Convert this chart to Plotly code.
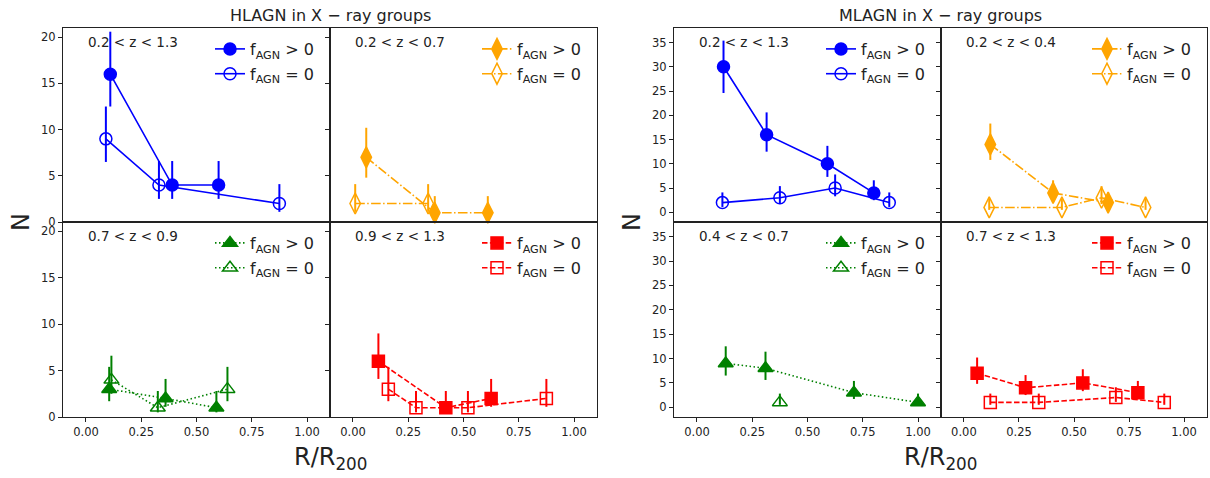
import plotly.graph_objects as go

W, H = 1210, 478

# ---------------- data ----------------
titles = ["HLAGN in X \u2212 ray groups", "MLAGN in X \u2212 ray groups"]
xticks = [0.0, 0.25, 0.5, 0.75, 1.0]
yticks_hl = [0, 5, 10, 15, 20]
yticks_ml = [0, 5, 10, 15, 20, 25, 30, 35]

z_labels_hl = ["0.2 &lt; z &lt; 1.3", "0.2 &lt; z &lt; 0.7", "0.7 &lt; z &lt; 0.9", "0.9 &lt; z &lt; 1.3"]
z_labels_ml = ["0.2 &lt; z &lt; 1.3", "0.2 &lt; z &lt; 0.4", "0.4 &lt; z &lt; 0.7", "0.7 &lt; z &lt; 1.3"]

# HLAGN
hl_all_on_x = [0.11, 0.39, 0.60];      hl_all_on_y = [16, 4, 4]
hl_all_on_up = [4.6, 2.6, 2.6];        hl_all_on_dn = [3.5, 1.5, 1.5]
hl_all_off_x = [0.09, 0.33, 0.875];    hl_all_off_y = [9, 4, 2]
hl_all_off_up = [3.5, 2.6, 2.1];       hl_all_off_dn = [2.5, 1.5, 0.9]

hl_low_on_x = [0.06, 0.37, 0.61];      hl_low_on_y = [7, 1, 1]
hl_low_on_up = [3.2, 1.8, 1.8];        hl_low_on_dn = [2.2, 0.5, 0.5]
hl_low_off_x = [0.01, 0.34];           hl_low_off_y = [2, 2]
hl_low_off_up = [2.1, 2.1];            hl_low_off_dn = [0.9, 0.9]

hl_mid_on_x = [0.105, 0.36, 0.59];     hl_mid_on_y = [3, 2, 1]
hl_mid_on_up = [2.4, 2.1, 1.8];        hl_mid_on_dn = [1.3, 0.9, 0.5]
hl_mid_off_x = [0.115, 0.325, 0.64];   hl_mid_off_y = [4, 1, 3]
hl_mid_off_up = [2.6, 1.8, 2.4];       hl_mid_off_dn = [1.5, 0.5, 1.3]

hl_hi_on_x = [0.115, 0.42, 0.625];     hl_hi_on_y = [6, 1, 2]
hl_hi_on_up = [3.0, 1.8, 2.1];         hl_hi_on_dn = [1.9, 0.5, 0.9]
hl_hi_off_x = [0.16, 0.285, 0.52, 0.875]; hl_hi_off_y = [3, 1, 1, 2]
hl_hi_off_up = [2.4, 1.8, 1.8, 2.1];   hl_hi_off_dn = [1.3, 0.5, 0.5, 0.9]

# MLAGN
ml_all_on_x = [0.12, 0.315, 0.59, 0.80];   ml_all_on_y = [30, 16, 10, 4]
ml_all_on_up = [5.4, 4.6, 3.7, 2.6];       ml_all_on_dn = [5.4, 3.5, 2.7, 1.5]
ml_all_off_x = [0.115, 0.375, 0.625, 0.87]; ml_all_off_y = [2, 3, 5, 2]
ml_all_off_up = [2.1, 2.4, 2.8, 2.1];      ml_all_off_dn = [0.9, 1.3, 1.7, 0.9]

ml_low_on_x = [0.12, 0.405, 0.655];        ml_low_on_y = [14, 4, 2]
ml_low_on_up = [4.3, 2.6, 2.1];            ml_low_on_dn = [3.2, 1.5, 0.9]
ml_low_off_x = [0.115, 0.445, 0.625, 0.825]; ml_low_off_y = [1, 1, 3, 1]
ml_low_off_up = [1.8, 1.8, 2.4, 1.8];      ml_low_off_dn = [0.5, 0.5, 1.3, 0.5]

ml_mid_on_x = [0.13, 0.31, 0.71, 1.0];     ml_mid_on_y = [9, 8, 3, 1]
ml_mid_on_up = [3.5, 3.4, 2.4, 1.8];       ml_mid_on_dn = [2.5, 2.4, 1.3, 0.5]
ml_mid_off_x = [0.375];                    ml_mid_off_y = [1]
ml_mid_off_up = [1.8];                     ml_mid_off_dn = [0.5]

ml_hi_on_x = [0.06, 0.28, 0.54, 0.79];     ml_hi_on_y = [7, 4, 5, 3]
ml_hi_on_up = [3.2, 2.6, 2.8, 2.4];        ml_hi_on_dn = [2.2, 1.5, 1.7, 1.3]
ml_hi_off_x = [0.12, 0.34, 0.69, 0.91];    ml_hi_off_y = [1, 1, 2, 1]
ml_hi_off_up = [1.8, 1.8, 2.1, 1.8];       ml_hi_off_dn = [0.5, 0.5, 0.9, 0.5]

# ---------------- styles ----------------
styles = [
    dict(color="#0000ff", dash="solid", on="circle", off="circle-open", size=12),
    dict(color="#ffa500", dash="9.6px,2.4px,1.5px,2.4px", on="diamond-tall", off="diamond-tall-open", size=15),
    dict(color="#008000", dash="1.5px,2.5px", on="triangle-up", off="triangle-up-open", size=13),
    dict(color="#ff0000", dash="5.5px,2.4px", on="square", off="square-open", size=12),
]

# panel boxes in pixels: (left, right, top, bottom)
col_px = [(63, 330), (330, 597), (674, 941), (941, 1207)]
row_px = [(28, 222), (222, 417)]

def fx(px):
    return px / W

def fy(py):
    return (H - py) / H

fig = go.Figure()

panels = [
    (0, 0, 0, 0, (hl_all_on_x, hl_all_on_y, hl_all_on_up, hl_all_on_dn), (hl_all_off_x, hl_all_off_y, hl_all_off_up, hl_all_off_dn), z_labels_hl[0]),
    (0, 1, 0, 1, (hl_low_on_x, hl_low_on_y, hl_low_on_up, hl_low_on_dn), (hl_low_off_x, hl_low_off_y, hl_low_off_up, hl_low_off_dn), z_labels_hl[1]),
    (0, 0, 1, 2, (hl_mid_on_x, hl_mid_on_y, hl_mid_on_up, hl_mid_on_dn), (hl_mid_off_x, hl_mid_off_y, hl_mid_off_up, hl_mid_off_dn), z_labels_hl[2]),
    (0, 1, 1, 3, (hl_hi_on_x, hl_hi_on_y, hl_hi_on_up, hl_hi_on_dn), (hl_hi_off_x, hl_hi_off_y, hl_hi_off_up, hl_hi_off_dn), z_labels_hl[3]),
    (1, 2, 0, 0, (ml_all_on_x, ml_all_on_y, ml_all_on_up, ml_all_on_dn), (ml_all_off_x, ml_all_off_y, ml_all_off_up, ml_all_off_dn), z_labels_ml[0]),
    (1, 3, 0, 1, (ml_low_on_x, ml_low_on_y, ml_low_on_up, ml_low_on_dn), (ml_low_off_x, ml_low_off_y, ml_low_off_up, ml_low_off_dn), z_labels_ml[1]),
    (1, 2, 1, 2, (ml_mid_on_x, ml_mid_on_y, ml_mid_on_up, ml_mid_on_dn), (ml_mid_off_x, ml_mid_off_y, ml_mid_off_up, ml_mid_off_dn), z_labels_ml[2]),
    (1, 3, 1, 3, (ml_hi_on_x, ml_hi_on_y, ml_hi_on_up, ml_hi_on_dn), (ml_hi_off_x, ml_hi_off_y, ml_hi_off_up, ml_hi_off_dn), z_labels_ml[3]),
]

font_main = "DejaVu Sans"
ink = "#222"
layout = dict(
    width=W, height=H, autosize=False,
    margin=dict(l=0, r=0, t=0, b=0, pad=0, autoexpand=False),
    paper_bgcolor="white", plot_bgcolor="white",
    font=dict(family=font_main, color=ink),
    annotations=[], showlegend=True,
)

for i, (fi, c, r, si, on, off, zl) in enumerate(panels):
    n = i + 1
    xa = "xaxis" if n == 1 else f"xaxis{n}"
    ya = "yaxis" if n == 1 else f"yaxis{n}"
    xr = "x" if n == 1 else f"x{n}"
    yr = "y" if n == 1 else f"y{n}"
    lg = "legend" if n == 1 else f"legend{n}"
    st = styles[si]
    l, rr = col_px[c]
    t, b = row_px[r]
    yrange = [0, 21.0] if fi == 0 else [-2.0, 38.0]
    ytv = yticks_hl if fi == 0 else yticks_ml
    left_col = c in (0, 2)
    bottom_row = r == 1
    layout[xa] = dict(
        domain=[fx(l), fx(rr)], anchor=yr, range=[-0.104, 1.104], automargin=False,
        tickvals=xticks, ticktext=[f"{v:.2f}" for v in xticks],
        showticklabels=bottom_row, ticks="outside" if bottom_row else "",
        ticklen=4, tickcolor=ink, tickfont=dict(size=11.5, family=font_main, color=ink),
        showline=True, mirror=True, linecolor=ink, linewidth=1,
        showgrid=False, zeroline=False,
    )
    layout[ya] = dict(
        domain=[fy(b), fy(t)], anchor=xr, range=yrange, automargin=False,
        tickvals=ytv, showticklabels=left_col, ticks="outside",
        ticklen=4, tickcolor=ink, tickfont=dict(size=11.5, family=font_main, color=ink),
        showline=True, mirror=True, linecolor=ink, linewidth=1,
        showgrid=False, zeroline=False,
    )
    for kind, d, sym in (("on", on, st["on"]), ("off", off, st["off"])):
        x, y, up, dn = d
        name = "f<sub>AGN</sub> > 0" if kind == "on" else "f<sub>AGN</sub> = 0"
        fig.add_trace(go.Scatter(
            x=x, y=y, xaxis=xr, yaxis=yr, legend=lg, name=name,
            legendgroup=f"{n}{kind}",
            mode="lines+markers", cliponaxis=False,
            line=dict(color=st["color"], dash=st["dash"], width=1.6),
            marker=dict(symbol=sym, size=st["size"], color=st["color"],
                        line=dict(color=st["color"], width=1.5)),
            error_y=dict(type="data", symmetric=False, array=up, arrayminus=dn,
                         width=0, thickness=2, color=st["color"]),
        ))
    layout[lg] = dict(
        x=fx(rr - 11), xanchor="right", y=fy(t + 4), yanchor="top",
        bgcolor="rgba(0,0,0,0)", borderwidth=0,
        font=dict(size=16, family=font_main, color=ink),
        itemwidth=30, tracegroupgap=1, traceorder="grouped",
    )
    layout["annotations"].append(dict(
        x=fx(l + 23), y=fy(t + 14), xref="paper", yref="paper",
        xanchor="left", yanchor="middle", text=zl, showarrow=False,
        font=dict(size=13.5, family=font_main, color=ink),
    ))

# titles and axis labels
for fi, (l, rr) in enumerate([(63, 597), (674, 1207)]):
    cx = (l + rr) / 2
    layout["annotations"].append(dict(
        x=fx(cx), y=fy(15), xref="paper", yref="paper", xanchor="center", yanchor="middle",
        text=titles[fi], showarrow=False, font=dict(size=16, family=font_main, color=ink)))
    layout["annotations"].append(dict(
        x=fx(cx), y=fy(458), xref="paper", yref="paper", xanchor="center", yanchor="middle",
        text="R/R<sub>200</sub>", showarrow=False, font=dict(size=24, family=font_main, color=ink)))
    layout["annotations"].append(dict(
        x=fx(l - 42), y=fy(222), xref="paper", yref="paper", xanchor="center", yanchor="middle",
        text="N", textangle=-90, showarrow=False, font=dict(size=24, family=font_main, color=ink)))

fig.update_layout(**layout)
fig.write_html("out.html", config={"displayModeBar": False},
               post_script="document.body.style.margin='0px';")
